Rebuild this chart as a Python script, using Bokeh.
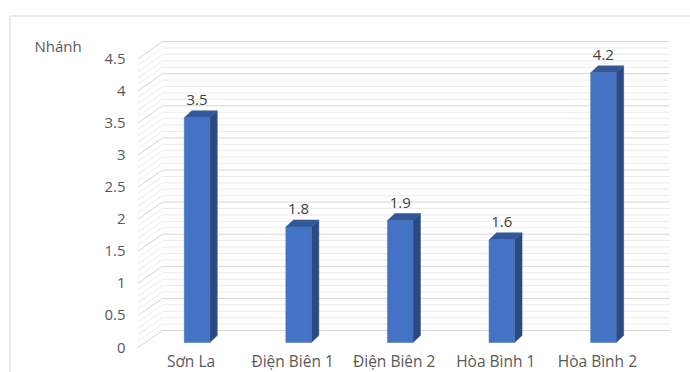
import numpy as np
from bokeh.plotting import figure
from bokeh.models import Range1d
from bokeh.core.properties import value
from bokeh.embed import file_html
from bokeh.resources import INLINE

# ---------------- data ----------------
categories = ["Sơn La", "Điện Biên 1", "Điện Biên 2", "Hòa Bình 1", "Hòa Bình 2"]
values = [3.5, 1.8, 1.9, 1.6, 4.2]
value_labels = ["3.5", "1.8", "1.9", "1.6", "4.2"]
y_ticks = [0, 0.5, 1, 1.5, 2, 2.5, 3, 3.5, 4, 4.5]
y_tick_labels = ["0", "0.5", "1", "1.5", "2", "2.5", "3", "3.5", "4", "4.5"]
minor_step = 0.1
axis_title = "Nhánh"

# ---------------- layout (pixels) ----------------
W, H = 690, 372
SX = 101.6          # px per category
SY = 64.2           # px per value unit
X0 = 196.5          # px of first category centre (bar plane)
Y0 = 342.0          # px (from top) of value 0 (bar plane)

def ux(px):   # pixel x -> data x
    return (px - X0) / SX

def uy(py):   # pixel y (from top) -> data y
    return (Y0 - py) / SY

dxs = lambda px: px / SX
dys = lambda px: px / SY

FONT = value("Open Sans")
TXT = "#595959"

p = figure(width=W, height=H, output_backend="svg", toolbar_location=None,
           x_range=Range1d(ux(0), ux(W)), y_range=Range1d(uy(H), uy(0)),
           x_axis_type=None, y_axis_type=None, min_border=0)
p.grid.visible = False
p.outline_line_color = None
p.background_fill_color = "white"
p.border_fill_color = "white"

# chart border (top & left only visible)
p.segment(x0=[ux(9.5), ux(9.5)], y0=[uy(15.5), uy(15.5)],
          x1=[ux(W + 5), ux(9.5)], y1=[uy(15.5), uy(H + 5)],
          line_color="#D9D9D9", line_width=1)

# ---------------- gridlines (back wall + side wall) ----------------
n_minor = int(round(max(y_ticks) / minor_step))
grid_vals = [round(i * minor_step, 2) for i in range(n_minor + 1)]
major = [any(abs(g - t) < 1e-9 for t in y_ticks) for g in grid_vals]

BACK_L, BACK_R = 162.0, 669.0     # px back wall extent
BACK_DY = -12.0                   # back wall vertical offset vs bar plane
FRONT_X, FRONT_DY = 137.5, 5.0    # front plane (side wall start)

for is_major, col in [(False, "#EBEBEB"), (True, "#D6D6D6")]:
    vals = [g for g, m in zip(grid_vals, major) if m == is_major]
    vy_back = [v + dys(-BACK_DY) for v in vals]
    vy_front = [v - dys(FRONT_DY) for v in vals]
    p.segment(x0=[ux(BACK_L)] * len(vals), y0=vy_back,
              x1=[ux(BACK_R)] * len(vals), y1=vy_back,
              line_color=col, line_width=1)
    p.segment(x0=[ux(FRONT_X)] * len(vals), y0=vy_front,
              x1=[ux(BACK_L)] * len(vals), y1=vy_back,
              line_color=col, line_width=1)

# ---------------- 3D bars ----------------
xs = np.arange(len(categories), dtype=float)
BW = dxs(25.5)
DDX, DDY = dxs(7.5), dys(7.0)

side_x, side_y, top_x, top_y = [], [], [], []
for x, v in zip(xs, values):
    r = x + BW / 2
    l = x - BW / 2
    side_x.append([r, r + DDX, r + DDX, r])
    side_y.append([0, DDY, v + DDY, v])
    top_x.append([l, r, r + DDX, l + DDX])
    top_y.append([v, v, v + DDY, v + DDY])

p.patches(xs=side_x, ys=side_y, fill_color="#2C4A80", line_color="#2C4A80", line_width=0.5)
p.patches(xs=top_x, ys=top_y, fill_color="#33589A", line_color="#33589A", line_width=0.5)
p.vbar(x=xs, top=values, bottom=0, width=BW, fill_color="#4472C4",
       line_color="#4472C4", line_width=0.5)

# data labels
p.text(x=xs, y=[v + dys(18) for v in values], text=value_labels,
       text_font=FONT, text_font_size="15px", text_color="#404040",
       text_align="center", text_baseline="middle")

# y tick labels (front plane)
p.text(x=[ux(125)] * len(y_ticks), y=[t - dys(FRONT_DY) for t in y_ticks],
       text=y_tick_labels, text_font=FONT, text_font_size="15px",
       text_color=TXT, text_align="right", text_baseline="middle")

# x category labels (front plane)
p.text(x=xs - dxs(6), y=[uy(371.5)] * len(categories), text=categories,
       text_font=FONT, text_font_size="15.5px", text_color=TXT,
       text_align="center", text_baseline="bottom")

# axis title
p.text(x=[ux(34)], y=[uy(45)], text=[axis_title], text_font=FONT,
       text_font_size="15px", text_color=TXT, text_align="left",
       text_baseline="middle")

open("out.html", "w").write(file_html(p, INLINE))
